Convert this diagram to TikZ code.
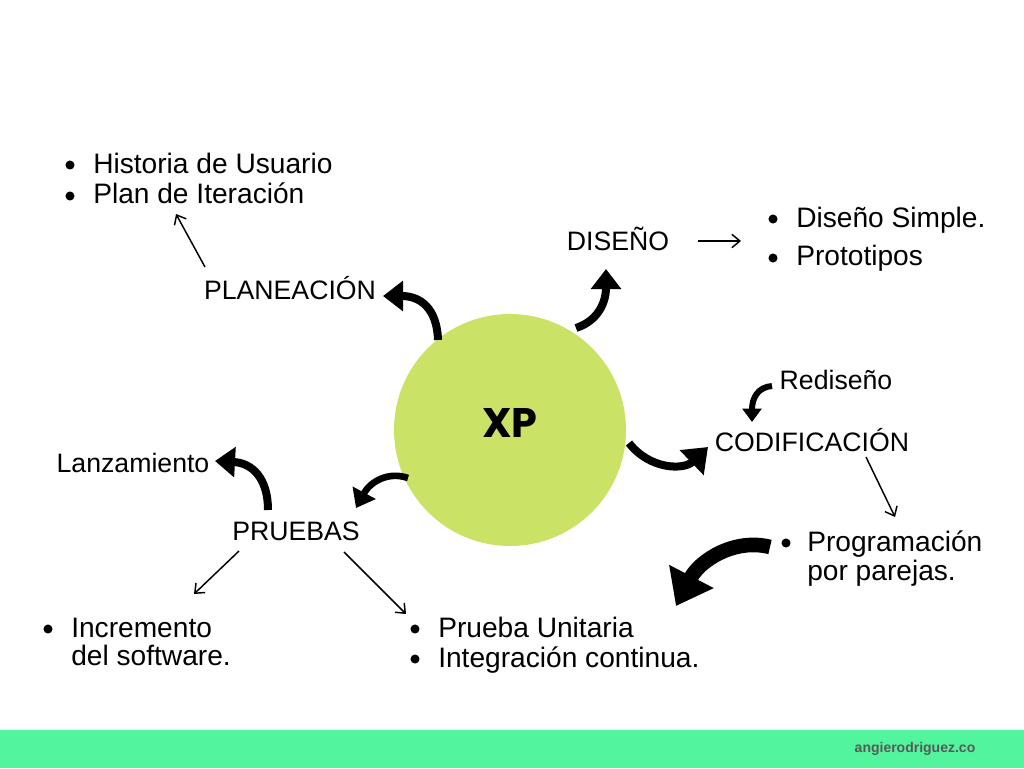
\documentclass[tikz,border=0pt]{standalone}
\usepackage{fontspec}
\setmainfont{Liberation Sans}
\newfontfamily\xpfont{Poppins}
\usetikzlibrary{arrows.meta}
\definecolor{xpgreen}{RGB}{202,226,101}
\definecolor{bargreen}{RGB}{82,245,158}
\definecolor{footgray}{RGB}{88,88,88}
\tikzset{
  lbl/.style={font=\fontsize{20}{23}\selectfont, anchor=base, inner sep=0pt},
  itm/.style={font=\fontsize{21.1}{24}\selectfont, anchor=base west, inner sep=0pt},
  bul/.style={circle, fill=black, inner sep=0pt, minimum size=6.8pt},
  thinarrow/.style={line width=1.1pt, -{Straight Barb[length=6pt,width=10pt]}},
  bigarrow/.style={line width=6pt, -{Triangle[length=15pt,width=22pt]}},
}
\begin{document}
\begin{tikzpicture}[x=0.75pt,y=-0.75pt]
\useasboundingbox (0,0) rectangle (1024,768);
\fill[white] (0,0) rectangle (1024,768);
% footer bar
\fill[bargreen] (0,730) rectangle (1024,768);
\node[font=\bfseries\fontsize{10.5}{12}\selectfont, text=footgray, inner sep=0pt] (foot) at (915,749) {angierodriguez.co};

% central circle
\node[circle, fill=xpgreen, minimum size=174pt, inner sep=0pt] (xp) at (510,430) {};
\node[font=\xpfont\bfseries\fontsize{31}{36}\selectfont, anchor=base, inner sep=0pt] (xptext) at (510,437) {XP};

% labels
\node[lbl] (plan) at (290,299) {PLANEACIÓN};
\node[lbl] (dis) at (618,250) {DISEÑO};
\node[lbl] (cod) at (812,451) {CODIFICACIÓN};
\node[lbl] (redis) at (836,389) {Rediseño};
\node[lbl] (lanz) at (133,472) {Lanzamiento};
\node[lbl] (prue) at (296,540) {PRUEBAS};

% bullet items
\node[bul] (b1) at (70,165) {};
\node[itm] (i1) at (93,173) {Historia de Usuario};
\node[bul] (b2) at (70,196) {};
\node[itm] (i2) at (93,203) {Plan de Iteración};

\node[bul] (b3) at (773,219) {};
\node[itm] (i3) at (796,227) {Diseño Simple.};
\node[bul] (b4) at (773,258) {};
\node[itm] (i4) at (796,265) {Prototipos};

\node[bul] (b5) at (786,543) {};
\node[itm] (i5) at (807,551) {Programación};
\node[itm] (i5b) at (807,580) {por parejas.};

\node[bul] (b6) at (48,629) {};
\node[itm] (i6) at (71,637) {Incremento};
\node[itm] (i6b) at (71,665) {del software.};

\node[bul] (b7) at (415,629) {};
\node[itm] (i7) at (438,637) {Prueba Unitaria};
\node[bul] (b8) at (415,659) {};
\node[itm] (i8) at (438,667) {Integración continua.};

% connector end points
\coordinate (a1s) at (438,340); \coordinate (a1e) at (383,296);
\coordinate (a2s) at (576,328); \coordinate (a2e) at (606,269);
\coordinate (a3s) at (629,443); \coordinate (a3e) at (708,447);
\coordinate (a4s) at (772,386); \coordinate (a4e) at (752,422);
\coordinate (a5s) at (770,547); \coordinate (a5e) at (676,606);
\coordinate (a6s) at (268,510); \coordinate (a6e) at (215,461);
\coordinate (a7s) at (408,478); \coordinate (a7e) at (356,508);

\coordinate (t1s) at (205,267); \coordinate (t1e) at (176,214);
\coordinate (t2s) at (698,241); \coordinate (t2e) at (741,241);
\coordinate (t3s) at (866,457); \coordinate (t3e) at (895,517);
\coordinate (t4s) at (239,551); \coordinate (t4e) at (194,594);
\coordinate (t5s) at (344,552); \coordinate (t5e) at (406,614);

% thick curved arrows
\draw[bigarrow] (a1s) .. controls (437,308) and (420,296) .. (a1e);
\draw[bigarrow] (a2s) .. controls (600,320) and (606,300) .. (a2e);
\draw[line width=6pt, -{Triangle[length=17pt,width=25pt]}] (a3s) .. controls (650,470) and (684,470) .. (a3e);
\draw[line width=4.5pt, -{Triangle[length=10pt,width=14pt]}] (a4s) .. controls (758,387) and (752,398) .. (a4e);
\draw[line width=11pt, -{Triangle[length=25pt,width=36pt]}] (a5s) .. controls (735,538) and (700,560) .. (a5e);
\draw[bigarrow] (a6s) .. controls (268,478) and (252,463) .. (a6e);
\draw[line width=5pt, -{Triangle[length=13pt,width=19pt]}] (a7s) .. controls (388,471) and (370,482) .. (a7e);

% thin arrows
\draw[thinarrow] (t1s) -- (t1e);
\draw[thinarrow] (t2s) -- (t2e);
\draw[thinarrow] (t3s) -- (t3e);
\draw[thinarrow] (t4s) -- (t4e);
\draw[thinarrow] (t5s) -- (t5e);
\end{tikzpicture}
\end{document}
